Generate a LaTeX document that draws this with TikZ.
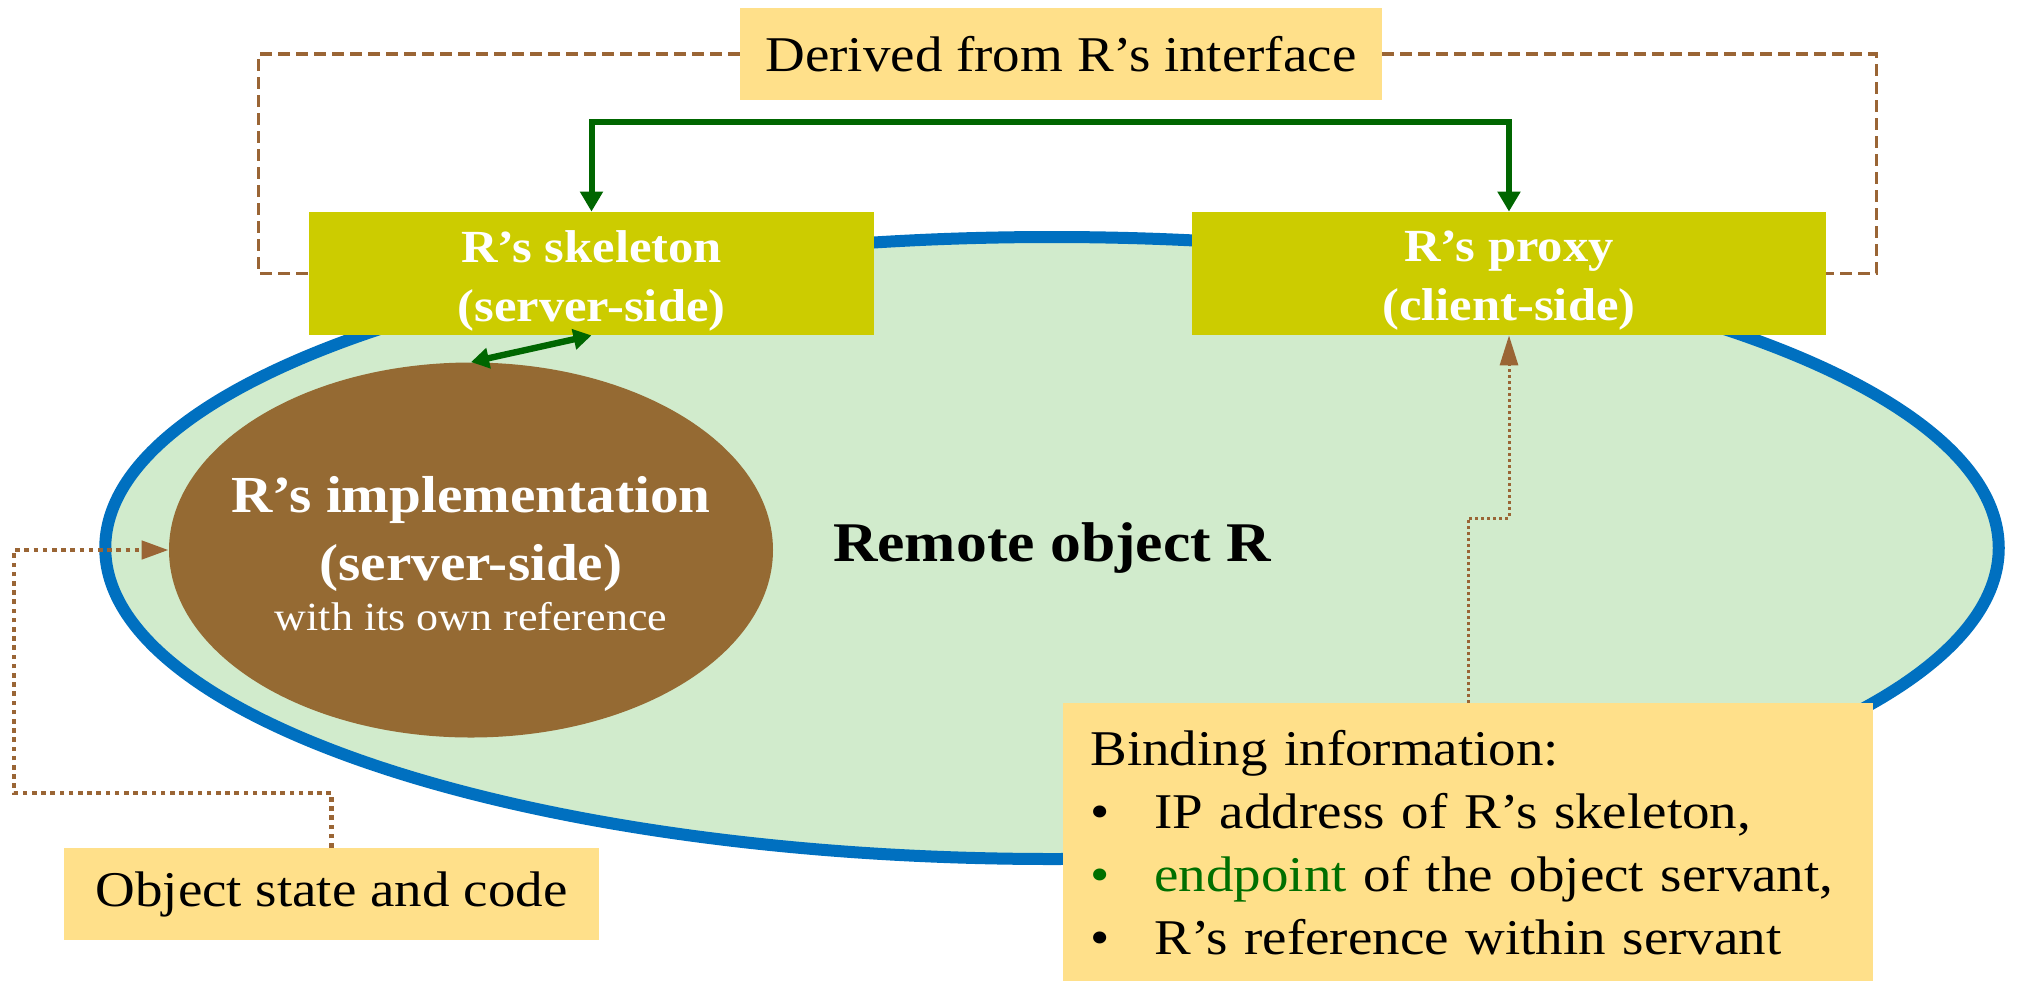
\documentclass[tikz,border=0pt]{standalone}
\usepackage{fontspec}
\setmainfont{Liberation Serif}[FakeStretch=1.1]
\usetikzlibrary{arrows.meta,shapes.geometric}
\definecolor{noteyellow}{HTML}{FFE08A}
\definecolor{olivebox}{HTML}{CCCC00}
\definecolor{ellgreen}{HTML}{D1EBCC}
\definecolor{ellblue}{HTML}{0070C0}
\definecolor{implbrown}{HTML}{956A33}
\definecolor{arrowgreen}{HTML}{006600}
\definecolor{linkbrown}{HTML}{9A6535}
\definecolor{textgreen}{HTML}{006F00}
\newcommand{\lowline}[1]{\raisebox{-3.5pt}[\height][\depth]{#1}}
\begin{document}
\begin{tikzpicture}[x=0.5pt,y=-0.5pt,
  note/.style={fill=noteyellow, inner sep=0pt, font=\fontsize{25}{31.5}\selectfont},
  sidebox/.style={fill=olivebox, text=white, font=\bfseries\fontsize{23}{29.5}\selectfont,
    align=center, minimum height=61.5pt, inner sep=0pt},
  gline/.style={draw=arrowgreen, line width=3pt},
  dashlink/.style={draw=linkbrown, line width=1.6pt, dash pattern=on 6pt off 3pt},
  dotlink/.style={draw=linkbrown, line width=2.3pt, dash pattern=on 2.3pt off 2.3pt},
  thindot/.style={draw=linkbrown, line width=1.5pt, dash pattern=on 1.5pt off 1.5pt}
]
\useasboundingbox (0,0) rectangle (2020,981);

% big ellipse
\node[ellipse, draw=ellblue, line width=6pt, fill=ellgreen, minimum width=946.75pt,
  minimum height=311pt, inner sep=0pt, font=\bfseries\fontsize{28}{34}\selectfont]
  (remote) at (1052,548) {Remote object R};

% boxes
\node[note, minimum width=321pt, minimum height=46pt] (derived) at (1061,54) {Derived from R’s interface};
\node[sidebox, minimum width=282.5pt] (skel) at (591.5,273.5) {\lowline{R’s skeleton}\\\lowline{(server-side)}};
\node[sidebox, minimum width=317pt] (proxy) at (1509,273.5) {\lowline{R’s proxy}\\\lowline{(client-side)}};

\node[ellipse, fill=implbrown, minimum width=302pt, minimum height=187.5pt, inner sep=0pt]
  (impl) at (471,550) {};
\node[text=white, align=center, inner sep=0pt, font=\bfseries\fontsize{26}{34}\selectfont]
  (impltext) at (471,554) {R’s implementation\\(server-side)\\[-9pt]{\mdseries\fontsize{20}{24}\selectfont with its own reference}};

\node[note, minimum width=267.5pt, minimum height=46pt] (objstate) at (331.5,894) {Object state and code};

\node[note, anchor=north west, minimum width=405pt, minimum height=139pt, text width=378pt,
  inner xsep=13.5pt, align=left] (binding) at (1063,703)
  {Binding information:\\
   \makebox[32pt][l]{\textbullet}IP address of R’s skeleton,\\
   \makebox[32pt][l]{\color{textgreen}\textbullet}{\color{textgreen}endpoint} of the object servant,\\
   \makebox[32pt][l]{\textbullet}R’s reference within servant};

% connectors
\coordinate (gtop) at (1050,122);
\draw[gline, {Triangle[length=10pt,width=11pt]}-{Triangle[length=10pt,width=11pt]}]
  (skel.north) |- (gtop) -| (proxy.north);
\draw[draw=arrowgreen, line width=3.2pt, {Triangle[length=9pt,width=10pt]}-{Triangle[length=9pt,width=10pt]}]
  (impl.north) -- (skel.south);

\draw[dashlink] (derived.west) -- ++(-481,0) |- (skel.west);
\draw[dashlink] (derived.east) -- ++(494,0) |- (proxy.east);

\coordinate (lc) at (14,793);
\draw[dotlink, -{Triangle[length=13.5pt,width=9pt]}] (objstate.north) |- (lc) |- (impl.west);

\draw[thindot, -{Triangle[length=15pt,width=9pt]}] (binding.north) -- ++(0,-185) -| (proxy.south);
\end{tikzpicture}
\end{document}
